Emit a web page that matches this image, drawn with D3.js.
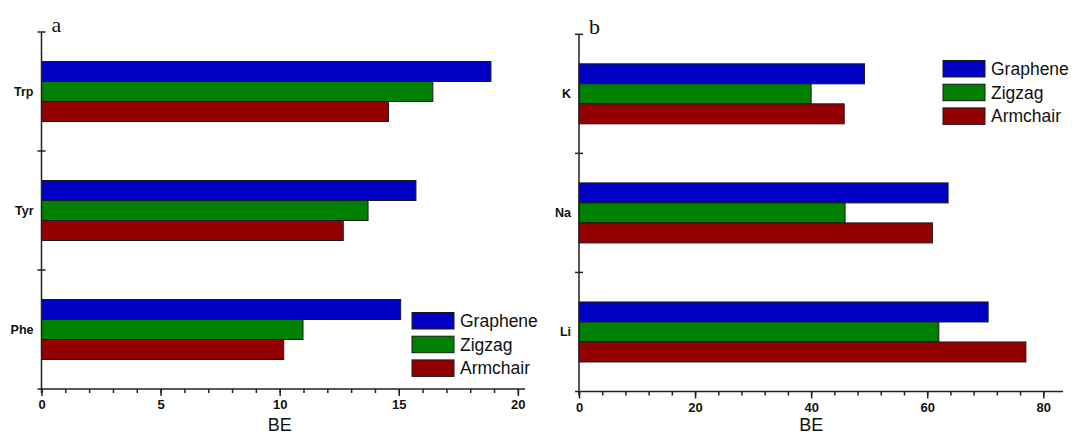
<!DOCTYPE html>
<html>
<head>
<meta charset="utf-8">
<script src="https://cdn.jsdelivr.net/npm/d3@7"></script>
<style>
  body { margin: 0; background: #fff; }
  svg { display: block; }
</style>
</head>
<body>
<svg width="1077" height="434"></svg>
<script>
// series shared by both panels
const series = ['Graphene', 'Zigzag', 'Armchair']
const colors = ['#0000c4', '#008000', '#930000']

// panel a : amino acids
const aminoCats = ['Trp', 'Tyr', 'Phe']
const aminoGraphene = [18.87, 15.72, 15.08]
const aminoZigzag = [16.43, 13.71, 10.98]
const aminoArmchair = [14.57, 12.67, 10.17]
const aminoTicks = [0, 5, 10, 15, 20]

// panel b : alkali ions
const ionCats = ['K', 'Na', 'Li']
const ionGraphene = [49.2, 63.6, 70.5]
const ionZigzag = [40.0, 45.85, 62.0]
const ionArmchair = [45.7, 60.9, 77.0]
const ionTicks = [0, 20, 40, 60, 80]

const svg = d3.select('svg')

function panel(opt) {
  const g = svg.append('g')
  const x = d3.scaleLinear().domain([0, opt.xMax]).range([opt.left, opt.right])
  const y0 = d3.scaleBand().domain(opt.cats).range([opt.top, opt.bottom])
    .paddingInner(0.496).paddingOuter(0.248)
  const y1 = d3.scaleBand().domain(series).range([0, y0.bandwidth()])

  const rows = opt.cats.map((c, i) => ({ cat: c, vals: opt.values.map(v => v[i]) }))

  g.selectAll('g.grp').data(rows).enter().append('g')
      .attr('class', 'grp')
      .attr('transform', d => `translate(0,${y0(d.cat)})`)
    .selectAll('rect').data(d => d.vals.map((v, j) => ({ s: series[j], v: v, j: j })))
    .enter().append('rect')
      .attr('x', x(0))
      .attr('y', d => y1(d.s))
      .attr('width', d => x(d.v) - x(0))
      .attr('height', y1.bandwidth())
      .attr('fill', d => colors[d.j])
      .attr('stroke', '#1a1a1a')
      .attr('stroke-width', 1)

  // x axis: minor then major ticks
  const xAxisMinor = d3.axisBottom(x).tickValues(d3.range(0, opt.xMax, opt.minor))
    .tickSize(4).tickFormat('')
  const xAxisMajor = d3.axisBottom(x).tickValues(opt.ticks).tickSize(7).tickPadding(4)
  const gm = g.append('g').attr('transform', `translate(0,${opt.bottom})`).call(xAxisMinor)
  const gx = g.append('g').attr('transform', `translate(0,${opt.bottom})`).call(xAxisMajor)
  gm.select('.domain').remove()
  gx.select('.domain').remove()
  g.selectAll('.tick line').attr('stroke', '#222').attr('stroke-width', 1.5)
  gx.attr('font-size', 13)
  gx.selectAll('text')
    .attr('font-family', 'Liberation Sans, Arial, sans-serif')
    .attr('font-weight', 'bold').attr('font-size', 13).attr('fill', '#111')

  g.append('line')
    .attr('x1', opt.left - 4).attr('x2', opt.right)
    .attr('y1', opt.bottom).attr('y2', opt.bottom)
    .attr('stroke', '#222').attr('stroke-width', 1.5)

  // y axis
  g.append('line')
    .attr('x1', opt.left).attr('x2', opt.left)
    .attr('y1', opt.top).attr('y2', opt.bottom + 4)
    .attr('stroke', '#222').attr('stroke-width', 1.5)
  const step = y0.step()
  const bounds = d3.range(opt.cats.length).map(i => opt.top + i * step)
  g.selectAll('line.ytick').data(bounds).enter().append('line')
    .attr('class', 'ytick')
    .attr('x1', opt.left - 4).attr('x2', opt.left + 4)
    .attr('y1', d => d).attr('y2', d => d)
    .attr('stroke', '#222').attr('stroke-width', 1.5)

  const yAxis = d3.axisLeft(y0).tickSize(0).tickPadding(8)
  const gy = g.append('g').attr('transform', `translate(${opt.left},0)`).call(yAxis)
  gy.select('.domain').remove()
  gy.attr('font-size', 12.5)
  gy.selectAll('text')
    .attr('font-family', 'Liberation Sans, Arial, sans-serif')
    .attr('font-weight', 'bold').attr('font-size', 12.5).attr('fill', '#111')

  // axis title
  g.append('text')
    .attr('x', (x(0) + x(opt.ticks[opt.ticks.length - 1])) / 2)
    .attr('y', 431)
    .attr('text-anchor', 'middle')
    .attr('font-family', 'Liberation Sans, Arial, sans-serif')
    .attr('font-size', 18).attr('fill', '#111')
    .text('BE')

  // panel letter
  g.append('text')
    .attr('x', opt.left + 10).attr('y', opt.top)
    .attr('font-family', 'Liberation Serif, Times New Roman, serif')
    .attr('font-size', 22).attr('fill', '#111')
    .text(opt.letter)

  // legend
  const lg = g.append('g').attr('transform', `translate(${opt.legX},${opt.legY})`)
  series.forEach((s, i) => {
    lg.append('rect')
      .attr('x', 0).attr('y', i * 23.7)
      .attr('width', 42).attr('height', 16.5)
      .attr('fill', colors[i])
      .attr('stroke', '#1a1a1a').attr('stroke-width', 1)
    lg.append('text')
      .attr('x', 48).attr('y', i * 23.7 + 14.5)
      .attr('font-family', 'Liberation Sans, Arial, sans-serif')
      .attr('font-size', 17.5).attr('fill', '#111')
      .text(s)
  })
}

panel({
  cats: aminoCats, values: [aminoGraphene, aminoZigzag, aminoArmchair],
  ticks: aminoTicks, minor: 1, xMax: 20.3,
  left: 41.5, right: 525, top: 32, bottom: 389,
  letter: 'a', legX: 412, legY: 312.5
})

panel({
  cats: ionCats, values: [ionGraphene, ionZigzag, ionArmchair],
  ticks: ionTicks, minor: 4, xMax: 83.4,
  left: 579, right: 1063, top: 34.3, bottom: 391.5,
  letter: 'b', legX: 943, legY: 60.5
})
</script>
</body>
</html>
